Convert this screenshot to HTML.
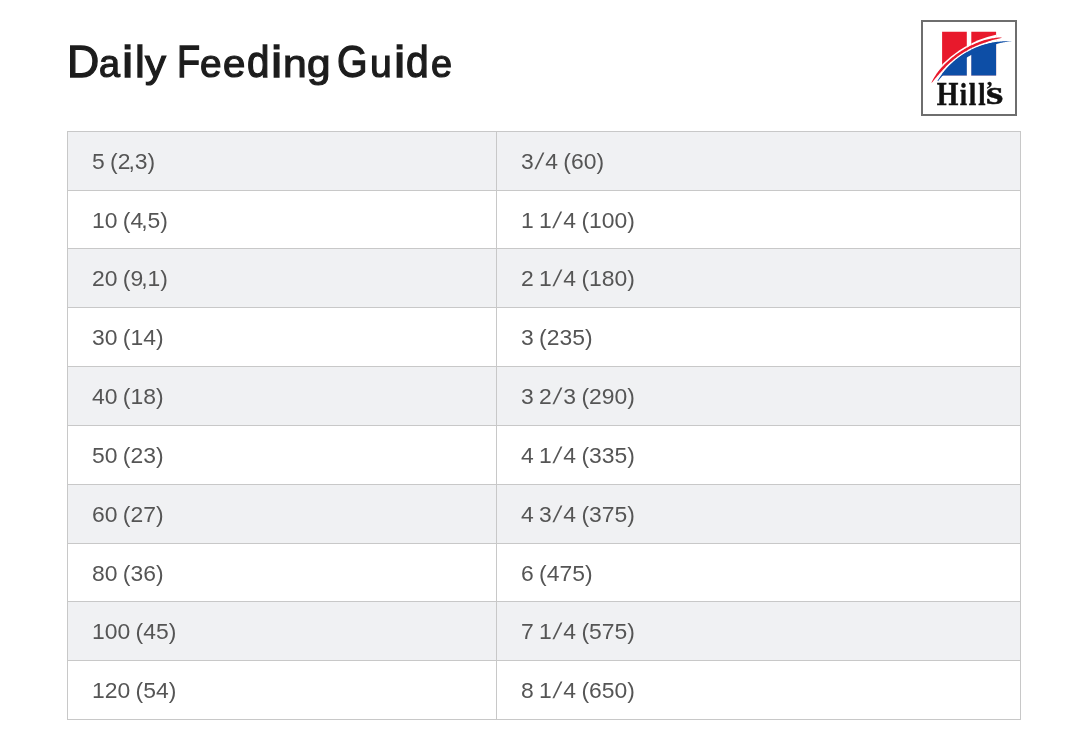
<!DOCTYPE html>
<html lang="en">
<head>
<meta charset="utf-8">
<title>Daily Feeding Guide</title>
<style>
html,body{margin:0;padding:0;background:#fff;}
body{width:1076px;height:756px;overflow:hidden;position:relative;font-family:"Liberation Sans",Arial,sans-serif;}
h1{position:absolute;left:0;top:32px;margin:0;font-size:44px;line-height:60px;font-weight:400;color:#1c1c1c;-webkit-text-stroke:1.3px #1c1c1c;white-space:nowrap;}
h1 span{position:absolute;top:0;transform-origin:0 46px;}
.logo{position:absolute;left:0;top:0;}
.bg{position:absolute;left:67px;width:954px;background:#f0f1f3;}
.hl{position:absolute;left:67px;width:954px;height:1px;background:#c8c8c8;}
.vl{position:absolute;top:131px;width:1px;height:589px;background:#c8c8c8;}
.c{position:absolute;font-size:22.9px;color:#555;white-space:nowrap;word-spacing:-1px;margin-top:1px;}
.s{display:inline-block;margin:0 2.5px 0 2.6px;transform:skewX(-12deg);}
.k{margin-left:-2px;}
.c1{left:92px;}
.c2{left:521px;}
</style>
</head>
<body>
<h1><span style="left:67.1px;transform:scale(1.015,1.0)">D</span><span style="left:99.1px;transform:scale(0.860,0.89)">a</span><span style="left:122.4px;transform:scale(1.150,1.0)">i</span><span style="left:135.0px">l</span><span style="left:145.3px;transform:scale(0.954,0.89)">y</span> <span style="left:176.7px;transform:scale(0.860,1.0)">F</span><span style="left:200.1px;transform:scale(0.882,0.89)">e</span><span style="left:223.1px;transform:scale(0.914,0.89)">e</span><span style="left:247.0px;transform:scale(0.919,1.0)">d</span><span style="left:270.9px;transform:scale(1.150,1.0)">i</span><span style="left:283.1px;transform:scale(0.970,0.89)">n</span><span style="left:307.0px;transform:scale(0.962,0.89)">g</span> <span style="left:337.1px;transform:scale(0.893,1.0)">G</span><span style="left:370.0px;transform:scale(0.890,0.89)">u</span><span style="left:393.7px;transform:scale(1.150,1.0)">i</span><span style="left:406.0px;transform:scale(0.929,1.0)">d</span><span style="left:430.6px;transform:scale(0.860,0.89)">e</span></h1>

<svg class="logo" width="1076" height="130" viewBox="0 0 1076 130">
  <defs>
    <clipPath id="cols">
      <rect x="942.1" y="31.7" width="24.7" height="43.9"/>
      <rect x="971.3" y="31.7" width="24.8" height="43.9"/>
    </clipPath>
  </defs>
  <rect x="922" y="21" width="94" height="94" fill="#fff" stroke="#6e6e6e" stroke-width="2"/>
  <g clip-path="url(#cols)">
    <rect x="940" y="30" width="60" height="50" fill="#e8192c"/>
    <circle cx="1019.26" cy="139.67" r="107.59" fill="#fff"/>
    <circle cx="1007.98" cy="123.64" r="82.48" fill="#0d4ea6"/>
  </g>
  <path d="M937.50,80.80 L937.97,80.03 L938.45,79.27 L938.94,78.51 L939.44,77.76 L939.94,77.02 L940.46,76.28 L940.98,75.54 L941.51,74.81 L942.04,74.09 L942.59,73.37 L943.14,72.66 L943.70,71.96 L944.27,71.26 L944.84,70.57 L945.43,69.88 L946.02,69.20 L946.61,68.53 L947.22,67.86 L947.83,67.20 L948.45,66.55 L949.08,65.90 L949.71,65.26 L950.35,64.63 L951.00,64.01 L951.65,63.39 L952.32,62.78 L952.98,62.17 L953.66,61.58 L954.34,60.99 L955.03,60.40 L955.72,59.83 L956.42,59.26 L957.12,58.70 L957.84,58.15 L958.55,57.61 L959.28,57.07 L960.01,56.55 L960.74,56.03 L961.48,55.51 L962.23,55.01 L962.98,54.52 L963.74,54.03 L964.50,53.55 L965.27,53.08 L966.04,52.62 L966.82,52.16 L967.60,51.72 L968.39,51.28 L969.18,50.86 L969.98,50.44 L970.78,50.03 L971.59,49.62 L972.40,49.23 L973.21,48.85 L974.03,48.47 L974.85,48.11 L975.68,47.75 L976.51,47.40 L977.34,47.06 L978.18,46.73 L979.02,46.41 L979.87,46.10 L980.71,45.80 L981.56,45.50 L982.42,45.22 L983.28,44.95 L984.14,44.68 L985.00,44.43 L985.87,44.18 L986.74,43.94 L987.61,43.72 L988.48,43.50 L989.36,43.29 L990.23,43.09 L991.11,42.90 L992.00,42.72 L992.88,42.55 L993.77,42.39 L994.65,42.24 L995.54,42.10 L996.43,41.97 L997.33,41.85 L998.22,41.74 L999.11,41.64 L1000.01,41.55 L1000.91,41.46 L1001.80,41.39 L1002.70,41.33 L1003.60,41.28 L1004.50,41.23 L1005.40,41.20 L1006.30,41.18 L1007.20,41.16 L1008.10,41.16 L1009.00,41.17 L1009.90,41.18 L1010.80,41.21 L1011.70,41.24 L1012.60,41.29 L1012.60,41.29 L1011.70,41.35 L1010.79,41.42 L1009.89,41.51 L1009.00,41.60 L1008.10,41.70 L1007.21,41.81 L1006.32,41.94 L1005.43,42.07 L1004.54,42.21 L1003.66,42.36 L1002.78,42.52 L1001.90,42.69 L1001.03,42.87 L1000.16,43.06 L999.29,43.25 L998.43,43.46 L997.56,43.68 L996.71,43.90 L995.85,44.14 L995.01,44.39 L994.16,44.65 L993.32,44.92 L992.49,45.20 L991.65,45.48 L990.83,45.78 L990.00,46.08 L989.18,46.39 L988.37,46.71 L987.56,47.04 L986.76,47.38 L985.96,47.72 L985.16,48.07 L984.37,48.43 L983.59,48.80 L982.81,49.18 L982.03,49.56 L981.26,49.95 L980.50,50.35 L979.74,50.76 L978.99,51.17 L978.24,51.59 L977.48,51.98 L976.70,52.32 L975.92,52.66 L975.15,53.02 L974.38,53.38 L973.62,53.75 L972.85,54.13 L972.10,54.52 L971.35,54.91 L970.60,55.32 L969.85,55.73 L969.12,56.15 L968.38,56.58 L967.65,57.02 L966.93,57.46 L966.21,57.91 L965.49,58.37 L964.78,58.84 L964.08,59.31 L963.38,59.80 L962.68,60.29 L961.99,60.79 L961.31,61.29 L960.63,61.81 L959.96,62.33 L959.29,62.85 L958.63,63.39 L957.98,63.93 L957.33,64.48 L956.69,65.04 L956.05,65.60 L955.42,66.17 L954.80,66.75 L954.18,67.33 L953.57,67.92 L952.88,68.44 L952.11,68.87 L951.34,69.32 L950.57,69.78 L949.81,70.24 L949.06,70.73 L948.31,71.22 L947.57,71.72 L946.83,72.24 L946.11,72.77 L945.38,73.31 L944.67,73.86 L943.96,74.43 L943.25,75.00 L942.64,75.65 L942.03,76.30 L941.44,76.97 L940.85,77.64 L940.27,78.32 L939.70,79.01 L939.14,79.71 L938.59,80.41 L938.04,81.13Z" fill="#0d4ea6"/>
  <path d="M931.40,83.08 L931.75,82.00 L932.23,80.99 L932.75,79.99 L933.29,79.02 L933.84,78.05 L934.42,77.09 L935.01,76.14 L935.62,75.20 L936.24,74.27 L936.87,73.34 L937.51,72.43 L938.17,71.52 L938.86,70.63 L939.58,69.78 L940.32,68.94 L941.07,68.10 L941.82,67.27 L942.58,66.45 L943.36,65.64 L944.14,64.84 L944.93,64.05 L945.73,63.27 L946.54,62.49 L947.36,61.73 L948.19,60.97 L949.02,60.23 L949.87,59.49 L950.72,58.76 L951.58,58.04 L952.45,57.34 L953.32,56.64 L954.21,55.95 L955.10,55.27 L956.00,54.61 L956.91,53.95 L957.82,53.30 L958.74,52.67 L959.67,52.04 L960.61,51.42 L961.55,50.82 L962.50,50.23 L963.45,49.64 L964.42,49.07 L965.39,48.51 L966.36,47.96 L967.34,47.42 L968.33,46.89 L969.33,46.37 L970.33,45.87 L971.33,45.37 L972.34,44.89 L973.36,44.42 L974.38,43.96 L975.41,43.51 L976.44,43.08 L977.47,42.65 L978.51,42.24 L979.56,41.84 L980.61,41.45 L981.67,41.07 L982.72,40.71 L983.79,40.35 L984.85,40.01 L985.94,39.72 L987.02,39.45 L988.11,39.20 L989.21,38.96 L990.30,38.73 L991.40,38.52 L992.50,38.32 L993.60,38.14 L994.71,37.97 L995.81,37.82 L996.92,37.69 L998.03,37.57 L999.14,37.48 L1000.26,37.41 L1001.37,37.38 L1002.50,37.47 L1002.50,37.47 L1001.43,37.85 L1000.36,38.13 L999.29,38.39 L998.21,38.65 L997.15,38.92 L996.08,39.19 L995.02,39.47 L993.95,39.76 L992.90,40.06 L991.84,40.36 L990.79,40.68 L989.75,41.01 L988.71,41.34 L987.67,41.69 L986.63,42.04 L985.60,42.40 L984.56,42.73 L983.53,43.08 L982.49,43.43 L981.47,43.80 L980.44,44.18 L979.42,44.57 L978.41,44.97 L977.40,45.39 L976.39,45.81 L975.39,46.25 L974.40,46.69 L973.41,47.15 L972.42,47.62 L971.44,48.11 L970.47,48.60 L969.50,49.10 L968.53,49.62 L967.58,50.14 L966.63,50.68 L965.68,51.23 L964.74,51.78 L963.81,52.35 L962.89,52.93 L961.97,53.52 L961.06,54.12 L960.15,54.73 L959.25,55.35 L958.36,55.98 L957.48,56.62 L956.60,57.27 L955.73,57.93 L954.87,58.60 L954.01,59.28 L953.17,59.97 L952.33,60.67 L951.50,61.38 L950.68,62.10 L949.86,62.83 L949.06,63.56 L948.26,64.31 L947.47,65.06 L946.69,65.83 L945.92,66.60 L945.16,67.38 L944.40,68.17 L943.66,68.97 L942.92,69.78 L942.20,70.59 L941.48,71.41 L940.77,72.24 L940.04,73.06 L939.31,73.87 L938.58,74.68 L937.85,75.51 L937.14,76.34 L936.43,77.18 L935.72,78.02 L935.02,78.87 L934.32,79.72 L933.63,80.58 L932.93,81.44 L932.22,82.29 L931.40,83.08Z" fill="#e8192c"/>
  <g font-family="Liberation Serif, serif" font-weight="700" font-size="100" fill="#111" stroke="#111" stroke-width="1.5">
    <text transform="translate(936.64,104.6) scale(0.2784,0.3415)">H</text>
    <text transform="translate(959.68,104.6) scale(0.2625,0.310)">i</text>
    <text transform="translate(968.86,104.6) scale(0.271,0.3217)">l</text>
    <text transform="translate(978.18,104.6) scale(0.2625,0.3217)">l</text>
    <text transform="translate(985.68,96.07) scale(0.22,0.21)">’</text>
    <text transform="translate(986.06,104.47) scale(0.4455,0.327)">s</text>
  </g>
</svg>

<div class="tbl">
<div class="bg" style="top:131px;height:59px"></div>
<div class="bg" style="top:248px;height:59px"></div>
<div class="bg" style="top:366px;height:59px"></div>
<div class="bg" style="top:484px;height:59px"></div>
<div class="bg" style="top:601px;height:59px"></div>
<div class="hl" style="top:131px"></div>
<div class="hl" style="top:190px"></div>
<div class="hl" style="top:248px"></div>
<div class="hl" style="top:307px"></div>
<div class="hl" style="top:366px"></div>
<div class="hl" style="top:425px"></div>
<div class="hl" style="top:484px"></div>
<div class="hl" style="top:543px"></div>
<div class="hl" style="top:601px"></div>
<div class="hl" style="top:660px"></div>
<div class="hl" style="top:719px"></div>
<div class="vl" style="left:67px"></div>
<div class="vl" style="left:496px"></div>
<div class="vl" style="left:1020px"></div>
<div class="c c1" style="top:131px;height:59px;line-height:59px">5 (2<span class="k">,</span>3)</div>
<div class="c c2" style="top:131px;height:59px;line-height:59px">3<span class="s">/</span>4 (60)</div>
<div class="c c1" style="top:190px;height:58px;line-height:58px">10 (4<span class="k">,</span>5)</div>
<div class="c c2" style="top:190px;height:58px;line-height:58px">1 1<span class="s">/</span>4 (100)</div>
<div class="c c1" style="top:248px;height:59px;line-height:59px">20 (9<span class="k">,</span>1)</div>
<div class="c c2" style="top:248px;height:59px;line-height:59px">2 1<span class="s">/</span>4 (180)</div>
<div class="c c1" style="top:307px;height:59px;line-height:59px">30 (14)</div>
<div class="c c2" style="top:307px;height:59px;line-height:59px">3 (235)</div>
<div class="c c1" style="top:366px;height:59px;line-height:59px">40 (18)</div>
<div class="c c2" style="top:366px;height:59px;line-height:59px">3 2<span class="s">/</span>3 (290)</div>
<div class="c c1" style="top:425px;height:59px;line-height:59px">50 (23)</div>
<div class="c c2" style="top:425px;height:59px;line-height:59px">4 1<span class="s">/</span>4 (335)</div>
<div class="c c1" style="top:484px;height:59px;line-height:59px">60 (27)</div>
<div class="c c2" style="top:484px;height:59px;line-height:59px">4 3<span class="s">/</span>4 (375)</div>
<div class="c c1" style="top:543px;height:58px;line-height:58px">80 (36)</div>
<div class="c c2" style="top:543px;height:58px;line-height:58px">6 (475)</div>
<div class="c c1" style="top:601px;height:59px;line-height:59px">100 (45)</div>
<div class="c c2" style="top:601px;height:59px;line-height:59px">7 1<span class="s">/</span>4 (575)</div>
<div class="c c1" style="top:660px;height:59px;line-height:59px">120 (54)</div>
<div class="c c2" style="top:660px;height:59px;line-height:59px">8 1<span class="s">/</span>4 (650)</div>
</div>
</body>
</html>
